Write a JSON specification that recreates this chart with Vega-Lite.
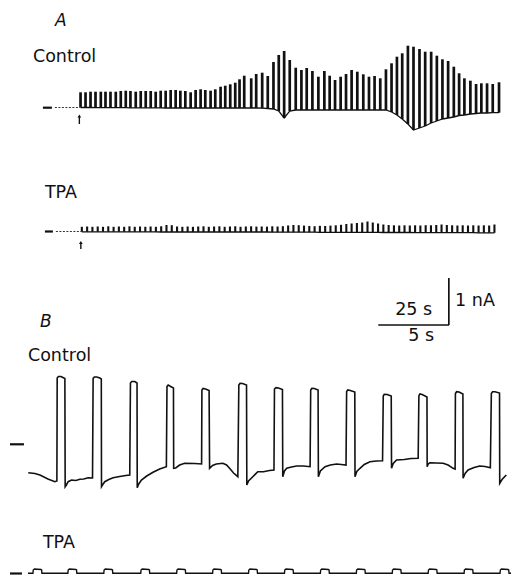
{
  "$schema": "https://vega.github.io/schema/vega-lite/v6.json",
  "width": 514,
  "height": 577,
  "padding": 0,
  "autosize": {"type": "fit", "contains": "padding"},
  "background": "white",
  "config": {"view": {"stroke": null}},
  "datasets": {
    "aCtrl": [
      {"t":80.7,"top":92.3,"bot":107.5},{"t":85.7,"top":92.3,"bot":107.5},{"t":90.7,"top":91.7,"bot":107.5},
      {"t":95.7,"top":91.7,"bot":107.6},{"t":101,"top":91.7,"bot":107.6},{"t":105.7,"top":91.7,"bot":107.6},
      {"t":110.7,"top":91.7,"bot":107.7},{"t":116,"top":91.7,"bot":107.7},{"t":121,"top":91,"bot":107.7},
      {"t":126,"top":90.7,"bot":107.7},{"t":130.7,"top":91,"bot":107.8},{"t":136,"top":91.7,"bot":107.8},
      {"t":141,"top":91,"bot":107.8},{"t":146,"top":91,"bot":107.8},{"t":151,"top":91,"bot":107.9},
      {"t":156,"top":91.7,"bot":107.9},{"t":161,"top":90.7,"bot":107.9},{"t":166,"top":90.7,"bot":108},
      {"t":171,"top":90,"bot":108},{"t":176,"top":90,"bot":108},{"t":180.7,"top":90.7,"bot":108},
      {"t":185.7,"top":91,"bot":108},{"t":191,"top":92.3,"bot":108},{"t":196,"top":90,"bot":108},
      {"t":201,"top":89.3,"bot":108},{"t":205.7,"top":90,"bot":108},{"t":211,"top":90.7,"bot":108},
      {"t":215.7,"top":89.3,"bot":108},{"t":221,"top":86.7,"bot":108},{"t":225.7,"top":85.7,"bot":108},
      {"t":230.7,"top":84.3,"bot":108},{"t":235.7,"top":82.7,"bot":108},{"t":240,"top":79.3,"bot":108},
      {"t":244.7,"top":75.7,"bot":108},{"t":251.7,"top":78.3,"bot":108},{"t":256.7,"top":74,"bot":108},
      {"t":262.7,"top":72.7,"bot":108.2},{"t":268.3,"top":76,"bot":108.5},{"t":274,"top":62,"bot":109},
      {"t":279.3,"top":55,"bot":111},{"t":284.7,"top":51,"bot":118},{"t":290.3,"top":60,"bot":111},
      {"t":296.3,"top":67.7,"bot":110},{"t":302,"top":70,"bot":110},{"t":307.3,"top":68,"bot":110},
      {"t":313,"top":71,"bot":110},{"t":319,"top":76.7,"bot":110},{"t":325,"top":71,"bot":110},
      {"t":330.3,"top":75.7,"bot":110},{"t":335.7,"top":80,"bot":110},{"t":341.3,"top":76.7,"bot":110},
      {"t":346.7,"top":74,"bot":110},{"t":352.3,"top":70,"bot":110},{"t":358,"top":71.7,"bot":110},
      {"t":364,"top":74.3,"bot":110},{"t":369.7,"top":76.7,"bot":110},{"t":375.3,"top":76,"bot":110},
      {"t":381,"top":78.3,"bot":110},{"t":386.7,"top":69.3,"bot":110},{"t":392.3,"top":63.3,"bot":112},
      {"t":397.7,"top":56.7,"bot":115},{"t":403,"top":53.3,"bot":119},{"t":408.7,"top":45.7,"bot":124},
      {"t":414.3,"top":46.7,"bot":130},{"t":420.3,"top":49,"bot":128},{"t":426,"top":51.7,"bot":126},
      {"t":432,"top":51.7,"bot":123},{"t":437.7,"top":55.7,"bot":121},{"t":443.3,"top":59.3,"bot":119},
      {"t":449,"top":61,"bot":118},{"t":454.7,"top":66.7,"bot":117},{"t":460,"top":73.3,"bot":115.5},
      {"t":465.3,"top":78.3,"bot":115},{"t":471.3,"top":80.7,"bot":114},{"t":477,"top":84,"bot":113.5},
      {"t":482.3,"top":83.3,"bot":113},{"t":488,"top":83.3,"bot":113},{"t":493.7,"top":84,"bot":112.7},
      {"t":500,"top":82.3,"bot":112.7}
    ],
    "aTpa": [
      {"t":82,"top":226.8,"bot":231.8},{"t":87.3,"top":226.5,"bot":231.8},{"t":92.6,"top":226.8,"bot":231.8},
      {"t":97.9,"top":226.5,"bot":231.8},{"t":103.2,"top":226.8,"bot":231.8},{"t":108.5,"top":226.3,"bot":231.8},
      {"t":113.8,"top":226.8,"bot":231.8},{"t":119.1,"top":226.5,"bot":231.8},{"t":124.4,"top":226.8,"bot":231.8},
      {"t":129.7,"top":226.3,"bot":231.9},{"t":135,"top":226.8,"bot":231.9},{"t":140.3,"top":226.5,"bot":231.9},
      {"t":145.6,"top":226.8,"bot":231.9},{"t":150.9,"top":226.5,"bot":231.9},{"t":156.2,"top":226.8,"bot":231.9},
      {"t":161.5,"top":226.3,"bot":232},{"t":166.8,"top":225,"bot":232},{"t":172.1,"top":225.2,"bot":232},
      {"t":177.4,"top":226.5,"bot":232},{"t":182.7,"top":226.8,"bot":232},{"t":188,"top":226.5,"bot":232},
      {"t":193.3,"top":226.8,"bot":232},{"t":198.6,"top":226.5,"bot":232},{"t":203.9,"top":226.3,"bot":232},
      {"t":209.2,"top":226.8,"bot":232},{"t":214.5,"top":226.5,"bot":232},{"t":219.8,"top":226.3,"bot":232},
      {"t":225.1,"top":226.8,"bot":232},{"t":230.4,"top":226.5,"bot":232},{"t":235.7,"top":226.3,"bot":232},
      {"t":241,"top":226.8,"bot":232},{"t":246.3,"top":226.5,"bot":232},{"t":251.6,"top":226.3,"bot":232},
      {"t":256.9,"top":226.6,"bot":232},{"t":262.2,"top":226.5,"bot":232},{"t":267.5,"top":226.6,"bot":232},
      {"t":272.8,"top":226.3,"bot":232.2},{"t":278.1,"top":226.5,"bot":232.2},{"t":283.4,"top":226.2,"bot":232.2},
      {"t":288.7,"top":225.5,"bot":232.2},{"t":294,"top":225,"bot":232.2},{"t":299.3,"top":225.2,"bot":232.2},
      {"t":304.6,"top":225.6,"bot":232.2},{"t":309.9,"top":226,"bot":232.2},{"t":315.2,"top":226.2,"bot":232.2},
      {"t":320.5,"top":225.8,"bot":232.3},{"t":325.8,"top":226,"bot":232.3},{"t":331.1,"top":225.6,"bot":232.3},
      {"t":336.4,"top":225.3,"bot":232.3},{"t":341.7,"top":224.8,"bot":232.3},{"t":347,"top":224,"bot":232.3},
      {"t":352.3,"top":223.5,"bot":232.4},{"t":357.6,"top":223,"bot":232.4},{"t":362.9,"top":222.5,"bot":232.4},
      {"t":368.2,"top":221.5,"bot":232.4},{"t":373.5,"top":222.5,"bot":232.4},{"t":378.8,"top":223.5,"bot":232.4},
      {"t":384.1,"top":224.5,"bot":232.5},{"t":389.4,"top":225,"bot":232.5},{"t":394.7,"top":225.3,"bot":232.5},
      {"t":400,"top":225.5,"bot":232.5},{"t":405.3,"top":225.3,"bot":232.5},{"t":410.6,"top":225.5,"bot":232.5},
      {"t":415.9,"top":225.3,"bot":232.6},{"t":421.2,"top":225.5,"bot":232.6},{"t":426.5,"top":225.2,"bot":232.6},
      {"t":431.8,"top":225.3,"bot":232.6},{"t":437.1,"top":225,"bot":232.6},{"t":442.4,"top":224.5,"bot":232.6},
      {"t":447.7,"top":225,"bot":232.7},{"t":453,"top":225.3,"bot":232.7},{"t":458.3,"top":225.5,"bot":232.7},
      {"t":463.6,"top":225.3,"bot":232.7},{"t":468.9,"top":225.5,"bot":232.7},{"t":474.2,"top":225.3,"bot":232.7},
      {"t":479.5,"top":225.5,"bot":232.8},{"t":484.8,"top":225.3,"bot":232.8},{"t":490.1,"top":225.5,"bot":232.8},
      {"t":495.4,"top":224.5,"bot":232.8}
    ],
    "bCtrl": [
      {"t":28.3,"i":472.7},{"t":35,"i":473.5},{"t":40,"i":475},{"t":48,"i":479},{"t":55,"i":481.7},{"t":57,"i":481},
      {"t":57.3,"i":378},{"t":58.5,"i":376.5},{"t":61,"i":376.5},{"t":63,"i":377.5},{"t":65,"i":378.5},
      {"t":65.3,"i":486.7},{"t":66.5,"i":485},{"t":68.3,"i":481.7},{"t":71.7,"i":480},{"t":76,"i":480.5},{"t":80,"i":479.3},{"t":84,"i":479},{"t":88.3,"i":477.7},{"t":92.7,"i":478},
      {"t":93.3,"i":378.5},{"t":94.5,"i":377},{"t":97,"i":377},{"t":100,"i":378},{"t":101.5,"i":379},
      {"t":101.7,"i":486.7},{"t":103,"i":484.5},{"t":105,"i":481.7},{"t":109,"i":479.5},{"t":113.3,"i":477.7},{"t":120,"i":476.5},{"t":126,"i":475.5},{"t":130,"i":475},
      {"t":130.7,"i":383},{"t":132,"i":381.5},{"t":135,"i":381.5},{"t":137.3,"i":383},
      {"t":137.5,"i":487.7},{"t":139,"i":484},{"t":141.7,"i":480},{"t":147,"i":476},{"t":153.3,"i":472.3},{"t":160,"i":469},{"t":166.7,"i":466.7},
      {"t":167.3,"i":386.5},{"t":168.5,"i":385},{"t":171,"i":386.5},{"t":173.8,"i":388},
      {"t":174,"i":468.3},{"t":176,"i":468},{"t":180,"i":465},{"t":185,"i":463.3},{"t":195,"i":463.5},{"t":202,"i":464},
      {"t":202.3,"i":390},{"t":203.5,"i":388.5},{"t":206,"i":389},{"t":209.5,"i":390.5},
      {"t":210,"i":468.3},{"t":213,"i":465.5},{"t":216.7,"i":464},{"t":223.3,"i":463.3},{"t":227,"i":465},{"t":230,"i":468.3},{"t":234,"i":473},{"t":238.3,"i":476.7},
      {"t":239.3,"i":385},{"t":240.5,"i":383.3},{"t":243,"i":383.5},{"t":247,"i":385},
      {"t":247.3,"i":485},{"t":249,"i":481},{"t":253.3,"i":476.7},{"t":258.3,"i":471.7},{"t":264,"i":471.7},{"t":270,"i":470.5},{"t":274.5,"i":470},
      {"t":275,"i":389},{"t":276.5,"i":387.7},{"t":279,"i":388},{"t":283,"i":389.5},
      {"t":283.3,"i":476.7},{"t":285,"i":471},{"t":287.3,"i":468.3},{"t":292,"i":467},{"t":297.3,"i":466},{"t":304,"i":466},{"t":310.7,"i":466.7},
      {"t":311.3,"i":390},{"t":312.5,"i":388.3},{"t":315,"i":388.5},{"t":318.7,"i":390},
      {"t":319,"i":476.7},{"t":321,"i":471},{"t":325.7,"i":466.7},{"t":331,"i":465},{"t":337.3,"i":464},{"t":342,"i":464.5},{"t":346.7,"i":465},
      {"t":347.3,"i":391.5},{"t":348.5,"i":390},{"t":351,"i":390.5},{"t":355.5,"i":392},
      {"t":355.7,"i":476.7},{"t":357.5,"i":471.5},{"t":360.7,"i":468.3},{"t":365,"i":464.5},{"t":370.7,"i":461.7},{"t":377,"i":461},{"t":383.3,"i":460.7},
      {"t":384,"i":396},{"t":385,"i":394.3},{"t":388,"i":394.5},{"t":392,"i":396},
      {"t":392.3,"i":468.3},{"t":394,"i":463.5},{"t":397.3,"i":460},{"t":405,"i":459.5},{"t":412,"i":458.5},{"t":419,"i":458.3},
      {"t":419.7,"i":396},{"t":420.7,"i":394},{"t":423,"i":394.5},{"t":427.8,"i":397},
      {"t":428,"i":466.7},{"t":429,"i":464},{"t":430.7,"i":462.7},{"t":437,"i":463},{"t":444,"i":463.3},{"t":449,"i":465},{"t":454,"i":468.3},{"t":456,"i":469},
      {"t":456.3,"i":393.5},{"t":457.5,"i":391.7},{"t":460,"i":392},{"t":463.8,"i":394},
      {"t":464,"i":478.3},{"t":466,"i":473.5},{"t":469,"i":470},{"t":475,"i":467.5},{"t":480.7,"i":466},{"t":486,"i":466.5},{"t":491.3,"i":467.7},
      {"t":492.3,"i":393.5},{"t":493.5,"i":391.7},{"t":496,"i":391.7},{"t":500.5,"i":393},
      {"t":500.7,"i":483.3},{"t":503,"i":479.5},{"t":507.3,"i":475}
    ],
    "bTpa": [
      {"t":28,"i":573.3},{"t":33,"i":573.3},{"t":33.3,"i":570},{"t":34.5,"i":569},{"t":41,"i":569.5},{"t":41.7,"i":570},{"t":42,"i":573.3},
      {"t":68,"i":573.3},{"t":68.3,"i":570},{"t":69.5,"i":569},{"t":76,"i":569.5},{"t":76.7,"i":570},{"t":77,"i":573.3},
      {"t":104,"i":573.3},{"t":104.3,"i":570},{"t":105.5,"i":569},{"t":112,"i":569.5},{"t":112.7,"i":570},{"t":113,"i":573.3},
      {"t":141,"i":573.3},{"t":141.3,"i":570},{"t":142.5,"i":569},{"t":149,"i":569.5},{"t":149.7,"i":570},{"t":150,"i":573.3},
      {"t":177,"i":573.3},{"t":177.3,"i":570},{"t":178.5,"i":569},{"t":185,"i":569.5},{"t":185.7,"i":570},{"t":186,"i":573.3},
      {"t":213,"i":573.3},{"t":213.3,"i":570},{"t":214.5,"i":569},{"t":221,"i":569.5},{"t":221.7,"i":570},{"t":222,"i":573.3},
      {"t":249,"i":573.3},{"t":249.3,"i":570},{"t":250.5,"i":569},{"t":257,"i":569.5},{"t":257.7,"i":570},{"t":258,"i":573.3},
      {"t":285,"i":573.3},{"t":285.3,"i":570},{"t":286.5,"i":569},{"t":293,"i":569.5},{"t":293.7,"i":570},{"t":294,"i":573.3},
      {"t":321,"i":573.3},{"t":321.3,"i":570},{"t":322.5,"i":569},{"t":329,"i":569.5},{"t":329.7,"i":570},{"t":330,"i":573.3},
      {"t":357,"i":573.3},{"t":357.3,"i":570},{"t":358.5,"i":569},{"t":365,"i":569.5},{"t":365.7,"i":570},{"t":366,"i":573.3},
      {"t":393,"i":573.3},{"t":393.3,"i":570},{"t":394.5,"i":569},{"t":401,"i":569.5},{"t":401.7,"i":570},{"t":402,"i":573.3},
      {"t":429,"i":573.3},{"t":429.3,"i":570},{"t":430.5,"i":569},{"t":437,"i":569.5},{"t":437.7,"i":570},{"t":438,"i":573.3},
      {"t":465,"i":573.3},{"t":465.3,"i":570},{"t":466.5,"i":569},{"t":473,"i":569.5},{"t":473.7,"i":570},{"t":474,"i":573.3},
      {"t":501,"i":573.3},{"t":501.3,"i":570},{"t":502.5,"i":569},{"t":509,"i":569.5},{"t":509.7,"i":570},{"t":510,"i":573.3},
      {"t":512,"i":573.3}
    ],
    "dashes": [
      {"t":43,"t2":52,"i":107.7},{"t":45,"t2":53,"i":231.5},{"t":10,"t2":24,"i":444.3},{"t":10,"t2":22,"i":573.5}
    ],
    "dots": [
      {"t":55,"t2":80,"i":107.5},{"t":56,"t2":82,"i":231.5}
    ],
    "arrows": [
      {"t":79.5,"tip":116,"tail":124},{"t":81,"tip":242.5,"tail":249}
    ],
    "scalebar": [
      {"t":449.7,"t2":449.7,"i":278,"i2":325},{"t":379,"t2":450,"i":325,"i2":325}
    ],
    "labels": [
      {"t":33,"i":57,"text":"Control"},{"t":45,"i":193,"text":"TPA"},
      {"t":28,"i":356,"text":"Control"},{"t":43,"i":542.5,"text":"TPA"},
      {"t":396,"i":310,"text":"25 s"},{"t":456,"i":301,"text":"1 nA"},{"t":409,"i":336,"text":"5 s"}
    ],
    "panelLabels": [
      {"t":55,"i":21,"text":"A"},{"t":40,"i":322,"text":"B"}
    ]
  },
  "layer": [
    {
      "data": {"name": "aCtrl"},
      "mark": {"type": "line", "color": "#111", "strokeWidth": 1.3},
      "encoding": {
        "x": {"field": "t", "type": "quantitative", "scale": {"domain": [0, 514], "nice": false, "zero": false}, "axis": null},
        "y": {"field": "bot", "type": "quantitative", "scale": {"domain": [0, 577], "reverse": true, "nice": false, "zero": false}, "axis": null}
      }
    },
    {
      "data": {"name": "aCtrl"},
      "mark": {"type": "rule", "color": "#111", "strokeWidth": 2.7},
      "encoding": {
        "x": {"field": "t", "type": "quantitative"},
        "y": {"field": "top", "type": "quantitative"},
        "y2": {"field": "bot"}
      }
    },
    {
      "data": {"name": "aTpa"},
      "mark": {"type": "line", "color": "#111", "strokeWidth": 1.3},
      "encoding": {
        "x": {"field": "t", "type": "quantitative"},
        "y": {"field": "bot", "type": "quantitative"}
      }
    },
    {
      "data": {"name": "aTpa"},
      "mark": {"type": "rule", "color": "#111", "strokeWidth": 2.1},
      "encoding": {
        "x": {"field": "t", "type": "quantitative"},
        "y": {"field": "top", "type": "quantitative"},
        "y2": {"field": "bot"}
      }
    },
    {
      "data": {"name": "bCtrl"},
      "mark": {"type": "line", "color": "#111", "strokeWidth": 1.6},
      "encoding": {
        "x": {"field": "t", "type": "quantitative"},
        "y": {"field": "i", "type": "quantitative"}
      }
    },
    {
      "data": {"name": "bTpa"},
      "mark": {"type": "line", "color": "#111", "strokeWidth": 1.4},
      "encoding": {
        "x": {"field": "t", "type": "quantitative"},
        "y": {"field": "i", "type": "quantitative"}
      }
    },
    {
      "data": {"name": "dashes"},
      "mark": {"type": "rule", "color": "#111", "strokeWidth": 2.2},
      "encoding": {
        "x": {"field": "t", "type": "quantitative"},
        "x2": {"field": "t2"},
        "y": {"field": "i", "type": "quantitative"}
      }
    },
    {
      "data": {"name": "dots"},
      "mark": {"type": "rule", "color": "#333", "strokeWidth": 1, "strokeDash": [2, 1.5]},
      "encoding": {
        "x": {"field": "t", "type": "quantitative"},
        "x2": {"field": "t2"},
        "y": {"field": "i", "type": "quantitative"}
      }
    },
    {
      "data": {"name": "arrows"},
      "mark": {"type": "rule", "color": "#111", "strokeWidth": 1.4},
      "encoding": {
        "x": {"field": "t", "type": "quantitative"},
        "y": {"field": "tip", "type": "quantitative"},
        "y2": {"field": "tail"}
      }
    },
    {
      "data": {"name": "arrows"},
      "mark": {"type": "point", "shape": "triangle-up", "filled": true, "color": "#111", "size": 14, "opacity": 1},
      "encoding": {
        "x": {"field": "t", "type": "quantitative"},
        "y": {"field": "tip", "type": "quantitative"}
      }
    },
    {
      "data": {"name": "scalebar"},
      "mark": {"type": "rule", "color": "#111", "strokeWidth": 1.7},
      "encoding": {
        "x": {"field": "t", "type": "quantitative"},
        "x2": {"field": "t2"},
        "y": {"field": "i", "type": "quantitative"},
        "y2": {"field": "i2"}
      }
    },
    {
      "data": {"name": "labels"},
      "mark": {"type": "text", "align": "left", "baseline": "middle", "font": "DejaVu Sans", "fontSize": 17.5, "color": "#111"},
      "encoding": {
        "x": {"field": "t", "type": "quantitative"},
        "y": {"field": "i", "type": "quantitative"},
        "text": {"field": "text"}
      }
    },
    {
      "data": {"name": "panelLabels"},
      "mark": {"type": "text", "align": "left", "baseline": "middle", "font": "DejaVu Sans", "fontSize": 17, "fontStyle": "italic", "color": "#111"},
      "encoding": {
        "x": {"field": "t", "type": "quantitative"},
        "y": {"field": "i", "type": "quantitative"},
        "text": {"field": "text"}
      }
    }
  ]
}
